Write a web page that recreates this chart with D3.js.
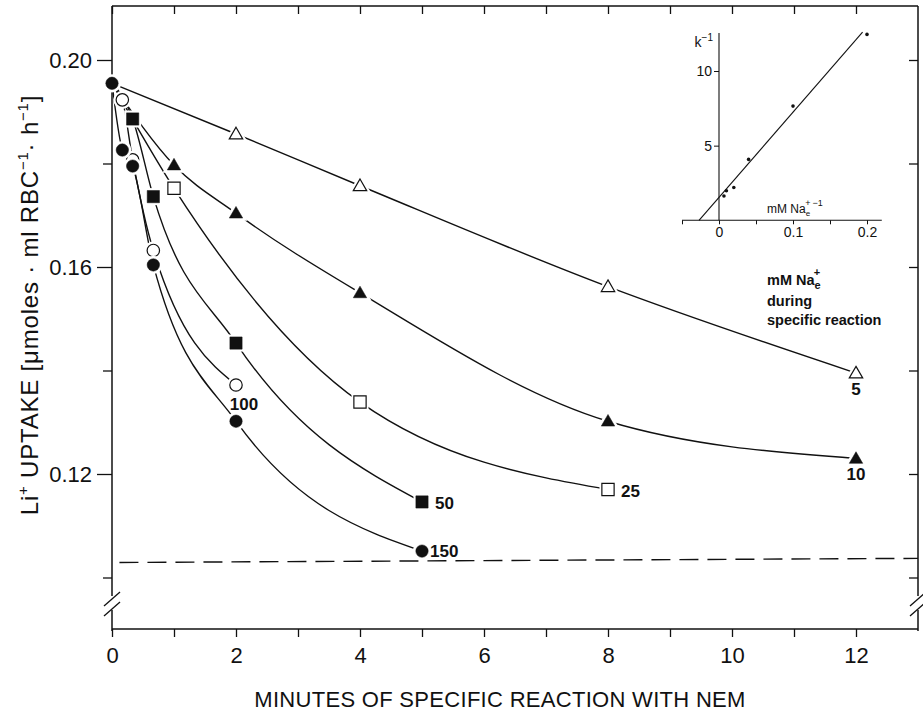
<!DOCTYPE html>
<html><head><meta charset="utf-8">
<script src="https://cdn.jsdelivr.net/npm/d3@7"></script>
<style>body{margin:0;background:#fff}svg{display:block}</style>
</head><body><svg id="c" width="923" height="712"></svg>
<script>
// ---------- data ----------
const tNa5   = [0, 2, 4, 8, 12];
const vNa5   = [0.1955, 0.1857, 0.1757, 0.1562, 0.1395];
const tNa10  = [0, 1, 2, 4, 8, 12];
const vNa10  = [0.1955, 0.1797, 0.1704, 0.1550, 0.1302, 0.1230];
const tNa25  = [0, 1, 4, 8];
const vNa25  = [0.1955, 0.1752, 0.1339, 0.1170];
const tNa50  = [0, 1/3, 2/3, 2, 5];
const vNa50  = [0.1955, 0.1886, 0.1736, 0.1453, 0.1146];
const tNa100 = [0, 1/6, 1/3, 2/3, 2];
const vNa100 = [0.1955, 0.1923, 0.1807, 0.1632, 0.1372];
const tNa150 = [0, 1/6, 1/3, 2/3, 2, 5];
const vNa150 = [0.1955, 0.1826, 0.1795, 0.1604, 0.1302, 0.1051];

const seriesLabels = ['5', '10', '25', '50', '100', '150'];
const seriesT = [tNa5, tNa10, tNa25, tNa50, tNa100, tNa150];
const seriesV = [vNa5, vNa10, vNa25, vNa50, vNa100, vNa150];
const seriesShape = ['triangle', 'triangle', 'square', 'square', 'circle', 'circle'];
const seriesFilled = [false, true, false, true, false, true];

const dashT = [0.12, 13];
const dashV = [0.1029, 0.1037];

const xTickValues = [0,1,2,3,4,5,6,7,8,9,10,11,12];
const xTickLabels = ['0','','2','','4','','6','','8','','10','','12'];
const yTickValues = [0.10, 0.12, 0.14, 0.16, 0.18, 0.20];
const yTickLabels = ['', '0.12', '', '0.16', '', '0.20'];

// inset: 1/k vs 1/[Na]
const insetX = [0.0067, 0.01, 0.02, 0.04, 0.1, 0.2];
const insetY = [1.63, 1.98, 2.2, 4.08, 7.65, 12.45];
const insetFitX = [-0.027, 0.194];
const insetFitY = [0, 12.6];
const insetXTicks = [-0.05, 0, 0.05, 0.1, 0.15, 0.2];
const insetXTickLabels = ['', '0', '', '0.1', '', '0.2'];
const insetYTicks = [5, 10];
const insetYTickLabels = ['5', '10'];

// ---------- drawing ----------
const svg = d3.select('#c');
const INK = '#111';
const FONT = "'Liberation Sans', Arial, sans-serif";

const x = d3.scaleLinear().domain([0, 13]).range([112, 918]);
const y = d3.scaleLinear().domain([0.10, 0.20]).range([577.5, 60]);
const TOP = 6, BOTTOM = 629;

// frame: top and right
svg.append('line').attr('x1', x(0)).attr('x2', x(13)).attr('y1', TOP).attr('y2', TOP)
  .attr('stroke', INK).attr('stroke-width', 1.5);
// vertical axis lines with break
function vAxisLine(xx) {
  svg.append('line').attr('x1', xx).attr('x2', xx).attr('y1', TOP).attr('y2', 596)
    .attr('stroke', INK).attr('stroke-width', 1.5);
  svg.append('line').attr('x1', xx).attr('x2', xx).attr('y1', 610).attr('y2', BOTTOM + 2)
    .attr('stroke', INK).attr('stroke-width', 1.5);
  [598, 608].forEach(b => {
    svg.append('line').attr('x1', xx - 8).attr('x2', xx + 8).attr('y1', b + 8).attr('y2', b - 6)
      .attr('stroke', INK).attr('stroke-width', 1.3);
  });
}
vAxisLine(x(0));
vAxisLine(x(13));
// bottom axis line
svg.append('line').attr('x1', x(0)).attr('x2', x(13)).attr('y1', BOTTOM).attr('y2', BOTTOM)
  .attr('stroke', INK).attr('stroke-width', 1.5);

// bottom axis
const gB = svg.append('g').attr('transform', `translate(0,${BOTTOM})`)
  .call(d3.axisBottom(x).tickValues(xTickValues).tickSize(8).tickPadding(10)
    .tickFormat((d, i) => xTickLabels[i]));
gB.select('.domain').remove();
gB.selectAll('line').attr('stroke', INK).attr('stroke-width', 1.3);
gB.selectAll('text').attr('font-family', FONT).attr('font-size', 22).attr('fill', INK);

// top axis (ticks inward)
const gT = svg.append('g').attr('transform', `translate(0,${TOP})`)
  .call(d3.axisTop(x).tickValues(xTickValues).tickSize(-8).tickFormat(''));
gT.select('.domain').remove();
gT.selectAll('line').attr('stroke', INK).attr('stroke-width', 1.3);

// left axis
const gL = svg.append('g').attr('transform', `translate(${x(0)},0)`)
  .call(d3.axisLeft(y).tickValues(yTickValues).tickSize(14).tickPadding(4)
    .tickFormat((d, i) => yTickLabels[i]));
gL.select('.domain').remove();
gL.selectAll('line').attr('stroke', INK).attr('stroke-width', 1.3)
  .attr('x2', (d, i) => yTickLabels[i] ? -15 : -9);
gL.selectAll('text').attr('font-family', FONT).attr('font-size', 22).attr('fill', INK)
  .attr('x', -20);

// right axis (ticks inward)
const gR = svg.append('g').attr('transform', `translate(${x(13)},0)`)
  .call(d3.axisRight(y).tickValues(yTickValues).tickSize(-9).tickFormat(''));
gR.select('.domain').remove();
gR.selectAll('line').attr('stroke', INK).attr('stroke-width', 1.3);

// axis titles
svg.append('text').attr('x', 500).attr('y', 707).attr('text-anchor', 'middle')
  .attr('font-family', FONT).attr('font-size', 22).attr('fill', INK).attr('letter-spacing', 0.3)
  .text('MINUTES OF SPECIFIC REACTION WITH NEM');

const yl = svg.append('text').attr('transform', 'translate(38,305) rotate(-90)')
  .attr('text-anchor', 'middle').attr('font-family', FONT).attr('font-size', 24)
  .attr('letter-spacing', 0.8).attr('fill', INK);
yl.append('tspan').text('Li');
yl.append('tspan').attr('font-size', 15).attr('dy', -10).text('+');
yl.append('tspan').attr('dy', 10).text(' UPTAKE [μmoles · ml RBC');
yl.append('tspan').attr('font-size', 15).attr('dy', -10).text('−1');
yl.append('tspan').attr('dy', 10).text('· h');
yl.append('tspan').attr('font-size', 15).attr('dy', -10).text('−1');
yl.append('tspan').attr('dy', 10).text(']');

// dashed reference line
svg.append('path')
  .attr('d', d3.line().x((d, i) => x(dashT[i])).y(d => y(d))(dashV))
  .attr('fill', 'none').attr('stroke', INK).attr('stroke-width', 1.4).attr('stroke-dasharray', '19,9');

// curves
const line = d3.line().curve(d3.curveMonotoneX);
seriesT.forEach((ts, s) => {
  const pts = ts.map((t, i) => [x(t), y(seriesV[s][i])]);
  svg.append('path').attr('d', line(pts)).attr('fill', 'none')
    .attr('stroke', INK).attr('stroke-width', 1.4);
});

// markers
const symType = { triangle: d3.symbolTriangle, square: d3.symbolSquare, circle: d3.symbolCircle };
const symSize = { triangle: 78, square: 150, circle: 121 };
const haloSize = { triangle: 230, square: 290, circle: 260 };
seriesT.forEach((ts, s) => {
  const shape = seriesShape[s];
  ts.forEach((t, i) => {
    if (i === 0 && s !== 5) return; // common start point drawn once (filled circle)
    const cx = x(t), cy = y(seriesV[s][i]);
    const dy = shape === 'triangle' ? 1 : 0;
    svg.append('path').attr('d', d3.symbol(symType[shape], haloSize[shape])())
      .attr('transform', `translate(${cx},${cy + dy})`).attr('fill', '#fff');
    svg.append('path').attr('d', d3.symbol(symType[shape], symSize[shape])())
      .attr('transform', `translate(${cx},${cy + dy})`)
      .attr('fill', seriesFilled[s] ? INK : '#fff')
      .attr('stroke', INK).attr('stroke-width', seriesFilled[s] ? 0.5 : 1.2);
  });
});

// series labels
const labelIdx = [4, 5, 3, 4, 4, 5];
const labelDx = [0, 0, 13, 13, 8, 8];
const labelDy = [22, 22, 7, 7, 25, 6];
const labelAnchor = ['middle', 'middle', 'start', 'start', 'middle', 'start'];
seriesLabels.forEach((lab, s) => {
  const i = labelIdx[s];
  svg.append('text')
    .attr('x', x(seriesT[s][i]) + labelDx[s]).attr('y', y(seriesV[s][i]) + labelDy[s])
    .attr('text-anchor', labelAnchor[s]).attr('font-family', FONT).attr('font-weight', 'bold')
    .attr('font-size', 17).attr('fill', INK).text(lab);
});

// legend note
const lg = svg.append('g').attr('font-family', FONT).attr('font-weight', 'bold')
  .attr('font-size', 14.5).attr('fill', INK);
const l1 = lg.append('text').attr('x', 767).attr('y', 285);
l1.append('tspan').text('mM Na');
l1.append('tspan').attr('font-size', 11).attr('dy', 4).text('e');
l1.append('tspan').attr('font-size', 11).attr('dx', -7).attr('dy', -13).text('+');
lg.append('text').attr('x', 767).attr('y', 305.5).text('during');
lg.append('text').attr('x', 767).attr('y', 325).text('specific reaction');

// ---------- inset ----------
const ix = d3.scaleLinear().domain([0, 0.2]).range([719, 867]);
const iy = d3.scaleLinear().domain([0, 10]).range([220.3, 71]);
const gi = svg.append('g');
gi.append('line').attr('x1', ix(-0.05)).attr('x2', ix(0.22)).attr('y1', iy(0)).attr('y2', iy(0))
  .attr('stroke', INK).attr('stroke-width', 1.1);
gi.append('line').attr('x1', ix(0)).attr('x2', ix(0)).attr('y1', iy(0)).attr('y2', iy(12.55))
  .attr('stroke', INK).attr('stroke-width', 1.1);
const gix = gi.append('g').attr('transform', `translate(0,${iy(0)})`)
  .call(d3.axisBottom(ix).tickValues(insetXTicks).tickSize(4).tickPadding(3)
    .tickFormat((d, i) => insetXTickLabels[i]));
gix.select('.domain').remove();
gix.selectAll('line').attr('stroke', INK);
gix.selectAll('text').attr('font-family', FONT).attr('font-size', 14).attr('fill', INK);
const giy = gi.append('g').attr('transform', `translate(${ix(0)},0)`)
  .call(d3.axisLeft(iy).tickValues(insetYTicks).tickSize(5).tickPadding(2)
    .tickFormat((d, i) => insetYTickLabels[i]));
giy.select('.domain').remove();
giy.selectAll('line').attr('stroke', INK);
giy.selectAll('text').attr('font-family', FONT).attr('font-size', 14).attr('fill', INK);
// k^-1
const kl = gi.append('text').attr('x', 713).attr('y', 47).attr('text-anchor', 'end')
  .attr('font-family', FONT).attr('font-size', 14).attr('fill', INK);
kl.append('tspan').text('k');
kl.append('tspan').attr('font-size', 10).attr('dy', -6).text('−1');
// x label of inset
const il = gi.append('text').attr('x', 767).attr('y', 213)
  .attr('font-family', FONT).attr('font-size', 12).attr('fill', INK);
il.append('tspan').text('mM Na');
il.append('tspan').attr('font-size', 8).attr('dy', 3).text('e');
il.append('tspan').attr('font-size', 9).attr('dx', -5).attr('dy', -10).text('+');
il.append('tspan').attr('font-size', 9).attr('dx', 2).text('−1');
// fit line
gi.append('path')
  .attr('d', d3.line().x((d, i) => ix(insetFitX[i])).y(d => iy(d))(insetFitY))
  .attr('stroke', INK).attr('stroke-width', 1.1).attr('fill', 'none');
// points
insetX.forEach((v, i) => {
  gi.append('circle').attr('cx', ix(v)).attr('cy', iy(insetY[i])).attr('r', 1.8).attr('fill', INK);
});
</script></body></html>
